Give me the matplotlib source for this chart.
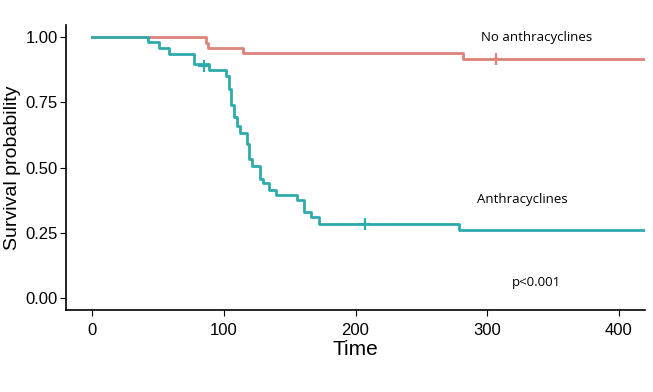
"Kaplan-Meier style survival plot"
import matplotlib
matplotlib.use('Agg')
import matplotlib.pyplot as plt

# No anthracyclines group
no_time = [0, 86.4, 87.8, 114.2, 281.5, 420]
no_surv = [1.0, 0.976, 0.959, 0.940, 0.916, 0.916]
no_cens_time = [307]
no_cens_surv = [0.916]

# Anthracyclines group
an_time = [0, 42.5, 51, 58, 77.4, 88.8, 101.5, 103.5, 105.3, 107.3, 110, 112.4,
           117.5, 119.4, 121.7, 127.6, 130, 133.9, 139.7, 155.4, 161.2, 166.5,
           172.2, 278.2, 420]
an_surv = [1.0, 0.980, 0.959, 0.937, 0.895, 0.872, 0.849, 0.800, 0.739, 0.695,
           0.660, 0.631, 0.590, 0.531, 0.507, 0.458, 0.439, 0.414, 0.395, 0.375,
           0.331, 0.309, 0.283, 0.260, 0.260]
an_cens_time = [84.5, 207.3]
an_cens_surv = [0.89, 0.283]

yticks = [0.0, 0.25, 0.5, 0.75, 1.0]
ytick_labels = ['0.00', '0.25', '0.50', '0.75', '1.00']
xticks = [0, 100, 200, 300, 400]

red = '#DD8479'
teal = '#2FAAAD'

plt.rcParams['font.family'] = ['Liberation Sans', 'DejaVu Sans']

fig = plt.figure(figsize=(6.53, 3.92), dpi=100)
ax = fig.add_axes([0.101, 0.209, 0.887, 0.727])

ax.step(no_time, no_surv, where='post', color=red, lw=2)
ax.step(an_time, an_surv, where='post', color=teal, lw=2)
ax.plot(no_cens_time, no_cens_surv, '+', color=red, ms=9, mew=1.6)
ax.plot(an_cens_time, an_cens_surv, '+', color=teal, ms=9, mew=1.6)

ax.set_xlim(-20, 420)
ax.set_ylim(-0.046, 1.046)
ax.set_xticks(xticks)
ax.set_yticks(yticks)
ax.set_yticklabels(ytick_labels)
ax.tick_params(labelsize=12, colors='black', length=4, width=0.8, pad=2)
ax.tick_params(axis='x', pad=5)
ax.spines['top'].set_visible(False)
ax.spines['right'].set_visible(False)
ax.spines['left'].set_linewidth(1.2)
ax.spines['bottom'].set_linewidth(1.2)

ax.set_xlabel('Time', fontsize=15, labelpad=2)
ax.set_ylabel('Survival probability', fontsize=14, labelpad=3)

note_font = ['Open Sans', 'DejaVu Sans']
ax.text(295, 0.985, 'No anthracyclines', fontsize=9.5, family=note_font)
ax.text(292, 0.365, 'Anthracyclines', fontsize=9.5, family=note_font)
ax.text(319, 0.045, 'p<0.001', fontsize=9.5, family=note_font)

fig.savefig('out.png', dpi=100)
